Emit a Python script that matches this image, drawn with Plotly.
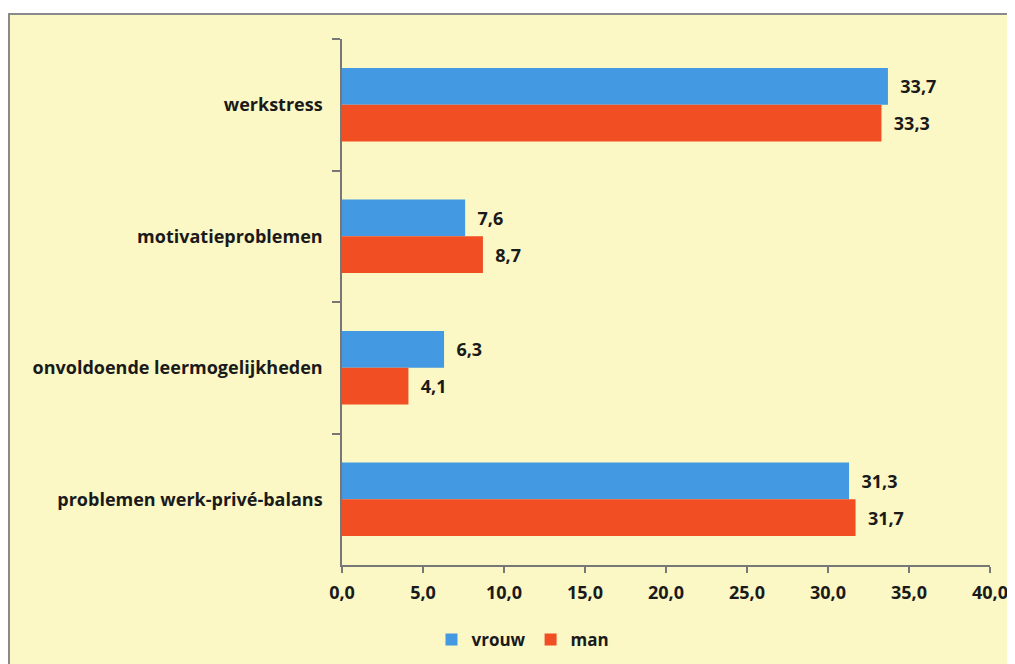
import plotly.graph_objects as go

categories = ["werkstress", "motivatieproblemen", "onvoldoende leermogelijkheden", "problemen werk-privé-balans"]
vrouw = [33.7, 7.6, 6.3, 31.3]
man = [33.3, 8.7, 4.1, 31.7]
x_ticks = [0, 5, 10, 15, 20, 25, 30, 35, 40]
x_tick_labels = ["0,0", "5,0", "10,0", "15,0", "20,0", "25,0", "30,0", "35,0", "40,0"]

BLUE = "#4399E2"
RED = "#F14E24"
FONT = "Open Sans"
TXT = "#1a1a1a"
FS = 18

def fmt(v):
    return "\u00a0\u00a0" + f"{v:.1f}".replace(".", ",")

fig = go.Figure()
fig.add_trace(go.Bar(y=categories, x=vrouw, orientation="h", name="vrouw",
                     marker=dict(color=BLUE, line=dict(width=0)),
                     text=[fmt(v) for v in vrouw], textposition="outside",
                     textfont=dict(family=FONT, size=FS, color=TXT, weight="bold"),
                     cliponaxis=False))
fig.add_trace(go.Bar(y=categories, x=man, orientation="h", name="man",
                     marker=dict(color=RED, line=dict(width=0)),
                     text=[fmt(v) for v in man], textposition="outside",
                     textfont=dict(family=FONT, size=FS, color=TXT, weight="bold"),
                     cliponaxis=False))

OFF = 8
W, H = 1015, 664
L, R, T, B = 342 - OFF, 1015 - (990 - OFF), 39 - OFF, 664 - (565 - OFF)
pw = W - L - R
ph = H - T - B

def px_x(p):
    return (p - OFF - L) / pw

def px_y(p):
    return (H - B - (p - OFF)) / ph

fig.add_shape(type="rect", xref="paper", yref="paper", layer="below",
              x0=px_x(9), x1=px_x(1040), y0=px_y(690), y1=px_y(14),
              fillcolor="#FBF8C5", line=dict(color="#8a8a8a", width=2))

fig.update_layout(
    width=W, height=H,
    margin=dict(l=L, r=R, t=T, b=B, pad=0),
    paper_bgcolor="white", plot_bgcolor="rgba(0,0,0,0)",
    barmode="group", bargap=0.44, bargroupgap=0,
    font=dict(family=FONT, size=FS, color=TXT),
    showlegend=True,
    legend=dict(orientation="h", x=px_x(523), xanchor="center", y=px_y(640), yanchor="middle",
                font=dict(family=FONT, size=17, color=TXT, weight="bold"),
                bgcolor="rgba(0,0,0,0)", itemwidth=30, traceorder="normal"),
    xaxis=dict(range=[0, 40], tickvals=x_ticks, ticktext=x_tick_labels,
               showgrid=False, zeroline=False, showline=True, linecolor="#777777", linewidth=1.5,
               ticks="outside", ticklen=6, tickcolor="#777777", tickwidth=1.5,
               tickfont=dict(family=FONT, size=FS, color=TXT, weight="bold"),
               ticklabelstandoff=5),
    yaxis=dict(categoryorder="array", categoryarray=categories, autorange="reversed",
               showgrid=False, zeroline=False, showline=True, linecolor="#777777", linewidth=1.5,
               ticks="outside", ticklen=8, tickcolor="#777777", tickwidth=1.5, tickson="boundaries",
               tickfont=dict(family=FONT, size=FS, color=TXT, weight="bold"),
               ticklabelstandoff=14),
)

fig.write_html("out.html")
